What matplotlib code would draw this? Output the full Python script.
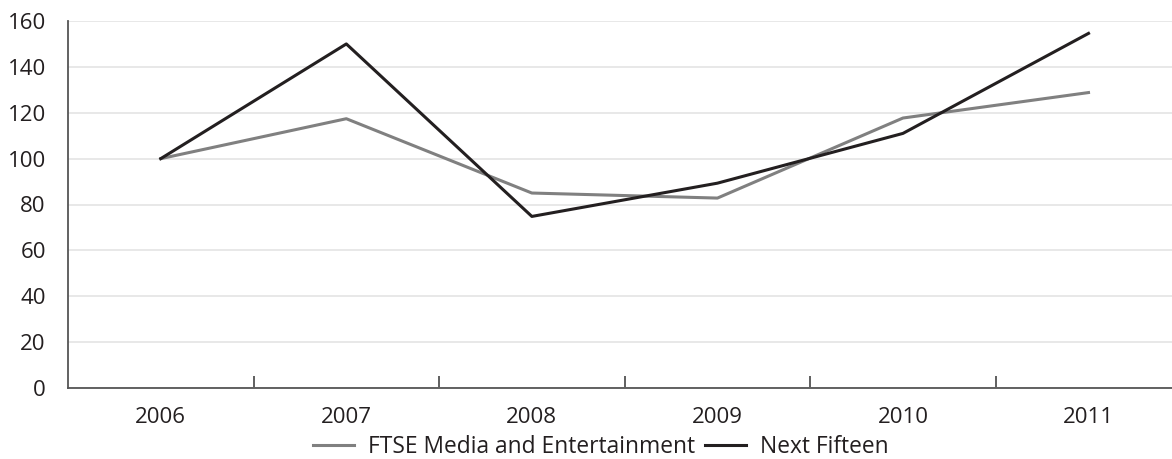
import matplotlib
matplotlib.use("Agg")
import numpy as np
from matplotlib import pyplot as plt

plt.rcParams['font.family'] = ['Open Sans', 'DejaVu Sans']

years = ['2006', '2007', '2008', '2009', '2010', '2011']
ftse_media = [100, 117.4, 85, 82.8, 117.7, 128.8]
next_fifteen = [100, 150, 74.8, 89.3, 111, 154.6]

fig = plt.figure(figsize=(11.72, 4.59), dpi=100)
ax = fig.add_axes([68 / 1172, 1 - 388 / 459, 1 - 68 / 1172, 367 / 459])

x = np.arange(len(years))
ax.plot(x, ftse_media, color='#808080', lw=2.2, label='FTSE Media and Entertainment')
ax.plot(x, next_fifteen, color='#231f20', lw=2.2, label='Next Fifteen')

ax.set_ylim(0, 160)
ax.set_xlim(-0.5, 5.45)
ax.set_yticks(range(0, 161, 20))
ax.grid(axis='y', color='#e6e6e6', lw=1.3)
ax.set_axisbelow(True)

# category labels centred, tick marks between categories
ax.set_xticks(x)
ax.set_xticklabels(years)
ax.set_xticks(np.arange(0.5, 5.0, 1.0), minor=True)
ax.tick_params(axis='x', which='major', length=0, pad=14, labelsize=16, colors='#231f20')
ax.tick_params(axis='x', which='minor', direction='in', length=9, width=1.2, color='#444444')
ax.tick_params(axis='y', length=0, pad=16, labelsize=16, colors='#231f20')

for side in ['top', 'right']:
    ax.spines[side].set_visible(False)
for side in ['left', 'bottom']:
    ax.spines[side].set_color('#555555')
    ax.spines[side].set_linewidth(1.3)

fig.legend(loc='center', bbox_to_anchor=(601 / 1172, 1 - 447 / 459), ncol=2, frameon=False,
           fontsize=16.4, handlelength=1.8, handletextpad=0.6, columnspacing=0.45,
           labelcolor='#231f20')

fig.savefig('out.png', dpi=100)
